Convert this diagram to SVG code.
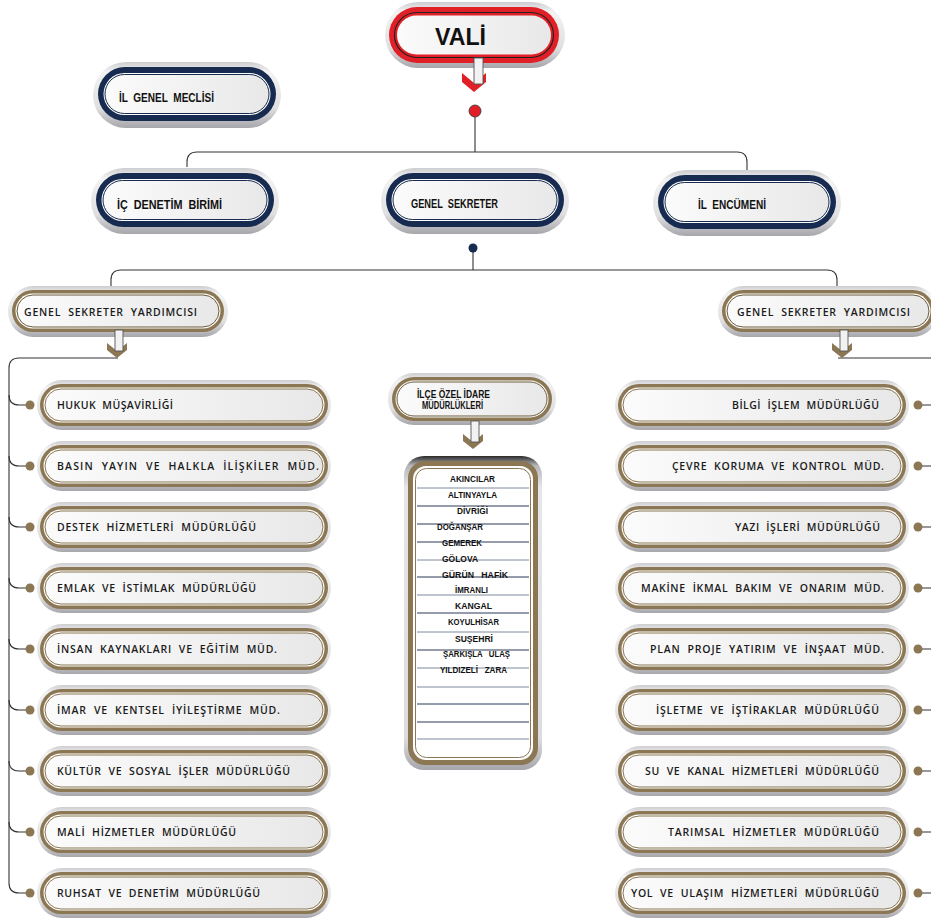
<svg xmlns="http://www.w3.org/2000/svg" xmlns:xlink="http://www.w3.org/1999/xlink" width="931" height="919" viewBox="0 0 931 919">
<defs>
<style>
.gt{font-family:"Open Sans","DejaVu Sans",sans-serif;font-weight:600;font-size:10.5px;fill:#1b1b1b;white-space:pre}
.ct{font-family:"Liberation Sans",Arial,sans-serif;font-weight:bold;font-size:12.5px;fill:#111;white-space:pre}
.lt{font-family:"Liberation Sans",Arial,sans-serif;font-weight:bold;font-size:8.8px;fill:#111;white-space:pre}
.ln{fill:none;stroke:#333;stroke-width:1.1}
.dot{fill:#8b7753}
.row{stroke:#2b3a5a;stroke-width:1}
.row2{stroke:#7f8a9c;stroke-width:1}
</style>
<linearGradient id="shell" x1="0" y1="0" x2="0" y2="1">
<stop offset="0" stop-color="#cdcdd1"/><stop offset="0.15" stop-color="#f3f3f3"/><stop offset="0.7" stop-color="#dfdfe1"/><stop offset="1" stop-color="#a6a6ab"/>
</linearGradient>
<linearGradient id="shellD" x1="0" y1="0" x2="0" y2="1">
<stop offset="0" stop-color="#2a2a2a"/><stop offset="0.03" stop-color="#b5b5b8"/><stop offset="0.1" stop-color="#e6e6e8"/><stop offset="0.9" stop-color="#dcdcde"/><stop offset="1" stop-color="#a6a6ab"/>
</linearGradient>
<linearGradient id="inner" x1="0" y1="0" x2="1" y2="0">
<stop offset="0" stop-color="#fbfbfb"/><stop offset="1" stop-color="#e8e8e8"/>
</linearGradient>
<g id="gbox">
<rect width="294" height="50" rx="25" fill="url(#shell)"/>
<rect x="3" y="4" width="288" height="42" rx="21" fill="#8b7753"/>
<rect x="6.5" y="7.5" width="281" height="35" rx="17.5" fill="#fff"/>
<rect x="8" y="9" width="278" height="32" rx="16" fill="url(#inner)" stroke="#8b7753" stroke-width="1"/>
</g>
<g id="sbox">
<rect width="220" height="51" rx="25.5" fill="url(#shell)"/>
<rect x="4" y="4" width="212" height="42" rx="21" fill="#8b7753"/>
<rect x="7.5" y="7.5" width="205" height="35" rx="17.5" fill="#fff"/>
<rect x="9" y="9" width="202" height="32" rx="16" fill="url(#inner)" stroke="#6b5a3a" stroke-width="1"/>
</g>
<g id="nbox">
<rect width="188" height="66" rx="33" fill="url(#shell)"/>
<rect x="5" y="5" width="178" height="54" rx="27" fill="#172a4f"/>
<rect x="10.5" y="11" width="167" height="42" rx="21" fill="#fff"/>
<rect x="12" y="12.5" width="164" height="39" rx="19.5" fill="url(#inner)" stroke="#172a4f" stroke-width="1"/>
</g>
<g id="chevG">
<polygon points="-10,-15 0,-7 10,-15 10,-8 0,0 -10,-8" fill="#8b7753"/>
<rect x="-2" y="-28" width="8" height="21" fill="#f2f2f2" stroke="#555" stroke-width="0.9"/>
</g>
<g id="chevR">
<polygon points="-12,-19 0,-9 12,-19 12,-10 0,0 -12,-10" fill="#e01f26"/>
<rect x="0" y="-34" width="9" height="26" fill="#f2f2f2" stroke="#555" stroke-width="0.9"/>
</g>
</defs>
<rect width="931" height="919" fill="#fff"/>

<g id="connectors">
<path class="ln" d="M475,117 V152 M187,167 V162 Q187,152 197,152 H737 Q747,152 747,162 V170"/>
<path class="ln" d="M473,248 V270 M111,287 V280 Q111,270 121,270 H827 Q837,270 837,280 V287"/>
<path class="ln" d="M118,358 H19 Q9,358 9,368 V883 Q9,893 19,893 H30"/>
<path class="ln" d="M9,395 Q9,405 19,405 H30 M9,456 Q9,466 19,466 H30 M9,517 Q9,527 19,527 H30 M9,578 Q9,588 19,588 H30 M9,639 Q9,649 19,649 H30 M9,700 Q9,710 19,710 H30 M9,761 Q9,771 19,771 H30 M9,822 Q9,832 19,832 H30"/>
<path class="ln" d="M838,358 H931 M918,405 H931 M918,466 H931 M918,527 H931 M918,588 H931 M918,649 H931 M918,710 H931 M918,771 H931 M918,832 H931 M918,893 H931"/>
<circle cx="475" cy="111" r="6" fill="#e01f26" stroke="#333" stroke-width="0.8"/>
<circle cx="473" cy="248" r="4.5" fill="#172a4f"/>
<g class="dot">
<circle cx="30" cy="405" r="4.5"/><circle cx="30" cy="466" r="4.5"/><circle cx="30" cy="527" r="4.5"/><circle cx="30" cy="588" r="4.5"/><circle cx="30" cy="649" r="4.5"/><circle cx="30" cy="710" r="4.5"/><circle cx="30" cy="771" r="4.5"/><circle cx="30" cy="832" r="4.5"/><circle cx="30" cy="893" r="4.5"/>
<circle cx="918" cy="405" r="4.5"/><circle cx="918" cy="466" r="4.5"/><circle cx="918" cy="527" r="4.5"/><circle cx="918" cy="588" r="4.5"/><circle cx="918" cy="649" r="4.5"/><circle cx="918" cy="710" r="4.5"/><circle cx="918" cy="771" r="4.5"/><circle cx="918" cy="832" r="4.5"/><circle cx="918" cy="893" r="4.5"/>
</g>
</g>

<g id="vali">
<rect x="385" y="2" width="180" height="66" rx="33" fill="url(#shell)"/>
<rect x="389" y="7" width="170" height="56" rx="28" fill="#e01f26"/>
<rect x="394.5" y="12.5" width="159" height="45" rx="22.5" fill="none" stroke="#222" stroke-width="1.2"/>
<rect x="397" y="15.5" width="154" height="39" rx="19.5" fill="url(#inner)"/>
<text x="435" y="45" font-family="Liberation Sans, Arial, sans-serif" font-weight="bold" font-size="24" fill="#111" textLength="51" lengthAdjust="spacingAndGlyphs">VALİ</text>
<use href="#chevR" x="474" y="92"/>
</g>

<g id="il-genel-meclisi"><use href="#nbox" x="93" y="62"/><text class="ct" x="119" y="102" textLength="95" lengthAdjust="spacingAndGlyphs">İL  GENEL  MECLİSİ</text></g>
<g id="ic-denetim"><use href="#nbox" x="91" y="168"/><text class="ct" x="117" y="209" textLength="105" lengthAdjust="spacingAndGlyphs">İÇ  DENETİM  BİRİMİ</text></g>
<g id="genel-sekreter"><use href="#nbox" x="381" y="168"/><text class="ct" x="411" y="208" textLength="87" lengthAdjust="spacingAndGlyphs">GENEL  SEKRETER</text></g>
<g id="il-encumeni"><use href="#nbox" x="653" y="170"/><text class="ct" x="698" y="209" textLength="68" lengthAdjust="spacingAndGlyphs">İL  ENCÜMENİ</text></g>

<g id="gsy-left"><use href="#sbox" x="8" y="286"/><text class="gt" x="24" y="316" textLength="173" lengthAdjust="spacing">GENEL  SEKRETER  YARDIMCISI</text><use href="#chevG" x="117" y="358"/></g>
<g id="gsy-right"><use href="#sbox" x="718" y="286"/><text class="gt" x="737" y="316" textLength="173" lengthAdjust="spacing">GENEL  SEKRETER  YARDIMCISI</text><use href="#chevG" x="842" y="358"/></g>

<g id="l1"><use href="#gbox" x="37" y="380"/><text class="gt" x="57" y="408.5" textLength="116" lengthAdjust="spacing">HUKUK  MÜŞAVİRLİĞİ</text></g>
<g id="l2"><use href="#gbox" x="37" y="441"/><text class="gt" x="57" y="469.5" textLength="262" lengthAdjust="spacing">BASIN  YAYIN  VE  HALKLA  İLİŞKİLER  MÜD.</text></g>
<g id="l3"><use href="#gbox" x="37" y="502"/><text class="gt" x="57" y="530.5" textLength="199" lengthAdjust="spacing">DESTEK  HİZMETLERİ  MÜDÜRLÜĞÜ</text></g>
<g id="l4"><use href="#gbox" x="37" y="563"/><text class="gt" x="57" y="591.5" textLength="199" lengthAdjust="spacing">EMLAK  VE  İSTİMLAK  MÜDÜRLÜĞÜ</text></g>
<g id="l5"><use href="#gbox" x="37" y="624"/><text class="gt" x="57" y="652.5" textLength="220" lengthAdjust="spacing">İNSAN  KAYNAKLARI  VE  EĞİTİM  MÜD.</text></g>
<g id="l6"><use href="#gbox" x="37" y="685"/><text class="gt" x="57" y="713.5" textLength="223" lengthAdjust="spacing">İMAR  VE  KENTSEL  İYİLEŞTİRME  MÜD.</text></g>
<g id="l7"><use href="#gbox" x="37" y="746"/><text class="gt" x="57" y="774.5" textLength="233" lengthAdjust="spacing">KÜLTÜR  VE  SOSYAL  İŞLER  MÜDÜRLÜĞÜ</text></g>
<g id="l8"><use href="#gbox" x="37" y="807"/><text class="gt" x="57" y="835.5" textLength="179" lengthAdjust="spacing">MALİ  HİZMETLER  MÜDÜRLÜĞÜ</text></g>
<g id="l9"><use href="#gbox" x="37" y="868"/><text class="gt" x="57" y="896.5" textLength="203" lengthAdjust="spacing">RUHSAT  VE  DENETİM  MÜDÜRLÜĞÜ</text></g>

<g id="r1"><use href="#gbox" x="615" y="380"/><text class="gt" x="732" y="408.5" textLength="147" lengthAdjust="spacing">BİLGİ  İŞLEM  MÜDÜRLÜĞÜ</text></g>
<g id="r2"><use href="#gbox" x="615" y="441"/><text class="gt" x="672" y="469.5" textLength="212" lengthAdjust="spacing">ÇEVRE  KORUMA  VE  KONTROL  MÜD.</text></g>
<g id="r3"><use href="#gbox" x="615" y="502"/><text class="gt" x="735" y="530.5" textLength="145" lengthAdjust="spacing">YAZI  İŞLERİ  MÜDÜRLÜĞÜ</text></g>
<g id="r4"><use href="#gbox" x="615" y="563"/><text class="gt" x="641" y="591.5" textLength="243" lengthAdjust="spacing">MAKİNE  İKMAL  BAKIM  VE  ONARIM  MÜD.</text></g>
<g id="r5"><use href="#gbox" x="615" y="624"/><text class="gt" x="650" y="652.5" textLength="234" lengthAdjust="spacing">PLAN  PROJE  YATIRIM  VE  İNŞAAT  MÜD.</text></g>
<g id="r6"><use href="#gbox" x="615" y="685"/><text class="gt" x="656" y="713.5" textLength="223" lengthAdjust="spacing">İŞLETME  VE  İŞTİRAKLAR  MÜDÜRLÜĞÜ</text></g>
<g id="r7"><use href="#gbox" x="615" y="746"/><text class="gt" x="645" y="774.5" textLength="234" lengthAdjust="spacing">SU  VE  KANAL  HİZMETLERİ  MÜDÜRLÜĞÜ</text></g>
<g id="r8"><use href="#gbox" x="615" y="807"/><text class="gt" x="668" y="835.5" textLength="211" lengthAdjust="spacing">TARIMSAL  HİZMETLER  MÜDÜRLÜĞÜ</text></g>
<g id="r9"><use href="#gbox" x="615" y="868"/><text class="gt" x="631" y="896.5" textLength="248" lengthAdjust="spacing">YOL  VE  ULAŞIM  HİZMETLERİ  MÜDÜRLÜĞÜ</text></g>

<g id="ilce">
<rect x="388" y="373" width="168" height="52" rx="26" fill="url(#shell)"/>
<rect x="392" y="377" width="160" height="44" rx="22" fill="#8b7753"/>
<rect x="395.5" y="380.5" width="153" height="37" rx="18.5" fill="#fff"/>
<rect x="397" y="382" width="150" height="34" rx="17" fill="url(#inner)" stroke="#6b5a3a" stroke-width="1"/>
<text class="ct" style="font-size:10.3px" x="417" y="398" textLength="73" lengthAdjust="spacingAndGlyphs">İLÇE ÖZEL İDARE</text>
<text class="ct" style="font-size:10.3px" x="422" y="408.5" textLength="61" lengthAdjust="spacingAndGlyphs">MÜDÜRLÜKLERİ</text>
<use href="#chevG" x="473" y="449"/>
</g>

<g id="ilce-list">
<rect x="404" y="456" width="138" height="314" rx="20" fill="url(#shellD)"/>
<rect x="408" y="461" width="130" height="304" rx="17" fill="#8b7753"/>
<rect x="413" y="466" width="120" height="294" rx="13" fill="#fff"/>
<rect x="415.5" y="468.5" width="115" height="289" rx="11" fill="#fff" stroke="#8b7753" stroke-width="1"/>
<g>
<line class="row2" x1="417" y1="488" x2="529" y2="488"/>
<line class="row" x1="417" y1="506" x2="529" y2="506"/>
<line class="row" x1="417" y1="524" x2="529" y2="524"/>
<line class="row" x1="417" y1="542" x2="529" y2="542"/>
<line class="row2" x1="417" y1="560" x2="529" y2="560"/>
<line class="row" x1="417" y1="577" x2="529" y2="577"/>
<line class="row2" x1="417" y1="595" x2="529" y2="595"/>
<line class="row" x1="417" y1="613" x2="529" y2="613"/>
<line class="row2" x1="417" y1="632" x2="529" y2="632"/>
<line class="row" x1="417" y1="650" x2="529" y2="650"/>
<line class="row2" x1="417" y1="668" x2="529" y2="668"/>
<line class="row2" x1="417" y1="687" x2="529" y2="687"/>
<line class="row" x1="417" y1="704" x2="529" y2="704"/>
<line class="row" x1="417" y1="722" x2="529" y2="722"/>
<line class="row2" x1="417" y1="739" x2="529" y2="739"/>
</g>
<text class="lt" x="450" y="481.5" textLength="45" lengthAdjust="spacingAndGlyphs">AKINCILAR</text>
<text class="lt" x="448" y="498" textLength="49" lengthAdjust="spacingAndGlyphs">ALTINYAYLA</text>
<text class="lt" x="457" y="514" textLength="31" lengthAdjust="spacingAndGlyphs">DİVRİĞİ</text>
<text class="lt" x="437" y="530" textLength="46" lengthAdjust="spacingAndGlyphs">DOĞANŞAR</text>
<text class="lt" x="442" y="546" textLength="40" lengthAdjust="spacingAndGlyphs">GEMEREK</text>
<text class="lt" x="442" y="561.5" textLength="36" lengthAdjust="spacingAndGlyphs">GÖLOVA</text>
<text class="lt" x="442" y="577.5" textLength="66" lengthAdjust="spacingAndGlyphs">GÜRÜN   HAFİK</text>
<text class="lt" x="455" y="593" textLength="33" lengthAdjust="spacingAndGlyphs">İMRANLI</text>
<text class="lt" x="455" y="609" textLength="37" lengthAdjust="spacingAndGlyphs">KANGAL</text>
<text class="lt" x="448" y="625" textLength="51" lengthAdjust="spacingAndGlyphs">KOYULHİSAR</text>
<text class="lt" x="455" y="641.5" textLength="38" lengthAdjust="spacingAndGlyphs">SUŞEHRİ</text>
<text class="lt" x="443" y="657" textLength="67" lengthAdjust="spacingAndGlyphs">ŞARKIŞLA   ULAŞ</text>
<text class="lt" x="440" y="673" textLength="67" lengthAdjust="spacingAndGlyphs">YILDIZELİ   ZARA</text>
</g>
</svg>
